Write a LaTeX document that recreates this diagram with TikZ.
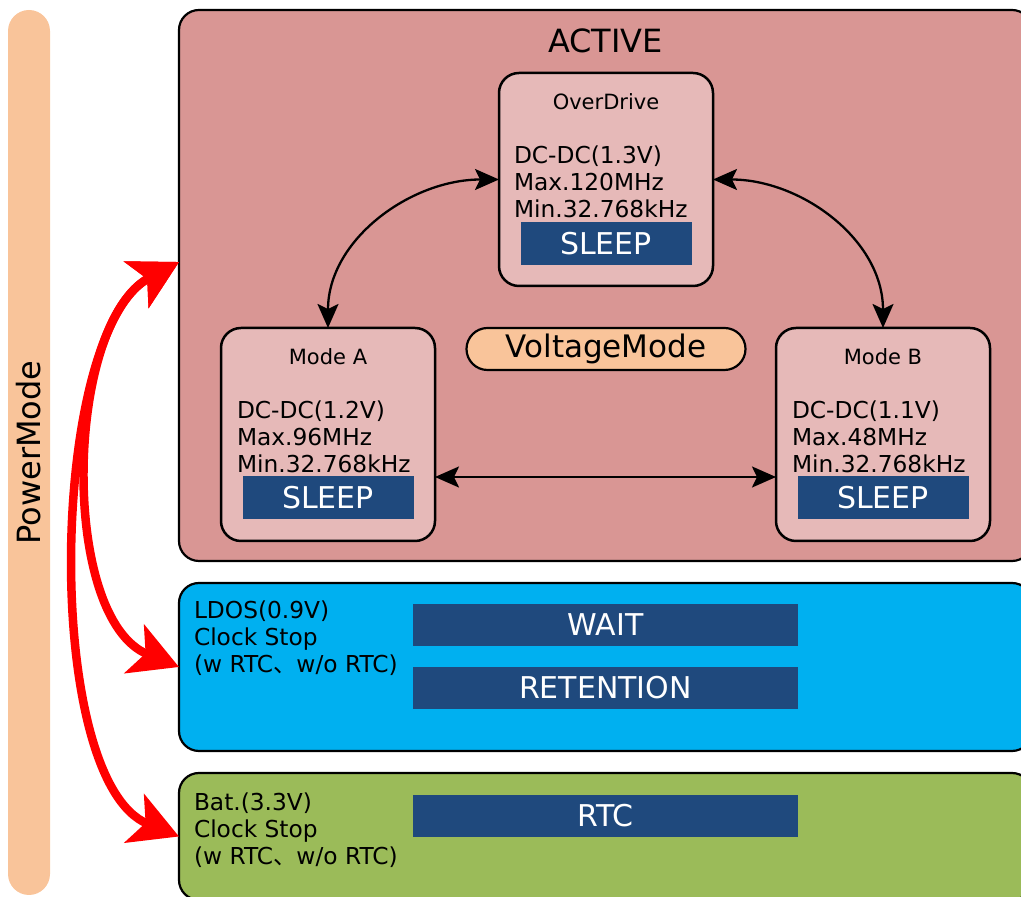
\documentclass[tikz,border=0pt]{standalone}
\usepackage{fontspec}
\setmainfont{DejaVu Sans}
\newfontfamily\cjkfont{Noto Sans CJK JP}
\usepackage{tikz}
\usetikzlibrary{positioning,arrows.meta}
\definecolor{ActivePink}{HTML}{D99694}
\definecolor{ModePink}{HTML}{E6B9B8}
\definecolor{LdoBlue}{HTML}{00B0F0}
\definecolor{BatGreen}{HTML}{9BBB59}
\definecolor{SleepBlue}{HTML}{1F497D}
\definecolor{Peach}{HTML}{F9C49A}

\begin{document}
\begin{tikzpicture}[
      x=1pt, y=1pt,
      every node/.style={inner sep=0pt, outer sep=0pt},
      band/.style={draw, line width=2.2pt, rounded corners=20pt, minimum width=853pt},
      modebox/.style={draw, fill=ModePink, line width=2.5pt, rounded corners=20pt, minimum width=214pt, minimum height=213pt},
      bartext/.style={fill=SleepBlue, text=white, font=\fontsize{30}{36}\selectfont},
      sleepbar/.style={bartext, minimum width=171pt, minimum height=43pt},
      statebar/.style={bartext, minimum width=385pt, minimum height=42pt},
      modetitle/.style={font=\fontsize{21}{25}\selectfont},
      modetext/.style={align=left, font=\fontsize{23.3}{27}\selectfont},
      biarrow/.style={<->, >={Stealth[length=24pt, width=21pt, inset=5pt]}, line width=2.3pt},
      redarrow/.style={<->, >={Stealth[length=48pt, width=52pt, inset=12pt]}, red, line width=8.5pt}
    ]
      \useasboundingbox (0,0) rectangle (1021,897);
      \clip (0,0) rectangle (1021,897);
      % Power mode strip
      \node[fill=Peach, rounded corners=21pt, rotate=90, minimum width=885pt, minimum height=42pt, font=\fontsize{32}{38}\selectfont] (power) at (29,444.5) {PowerMode};
      % Bands
      \node[band, fill=ActivePink, minimum height=551pt] (active) at (605.5,611.5) {};
      \node[band, fill=LdoBlue, minimum height=168pt, below=22pt of active] (ldo) {};
      \node[band, fill=BatGreen, minimum height=127pt, below=22pt of ldo] (bat) {};
      \node[below=19pt of active.north, font=\fontsize{32}{38}\selectfont] (activeT) {ACTIVE};
      % Voltage modes
      \node[modebox] (over) at (606,717.5) {};
      \node[modebox, below left=42pt and 64pt of over] (modeA) {};
      \node[modebox, right=341pt of modeA] (modeB) {};
      \node[modetitle, below=21pt of over.north] (overT) {OverDrive};
      \node[modetext, below right=73pt and 15pt of over.north west] (overX) {DC-DC(1.3V)\\Max.120MHz\\Min.32.768kHz};
      \node[sleepbar, above=21pt of over.south] (overS) {SLEEP};
      \node[modetitle, below=21pt of modeA.north] (modeAT) {Mode A};
      \node[modetext, below right=73pt and 16pt of modeA.north west] (modeAX) {DC-DC(1.2V)\\Max.96MHz\\Min.32.768kHz};
      \node[sleepbar, above=22pt of modeA.south] (modeAS) {SLEEP};
      \node[modetitle, below=21pt of modeB.north] (modeBT) {Mode B};
      \node[modetext, below right=73pt and 16pt of modeB.north west] (modeBX) {DC-DC(1.1V)\\Max.48MHz\\Min.32.768kHz};
      \node[sleepbar, above=22pt of modeB.south] (modeBS) {SLEEP};
      \node[draw, fill=Peach, line width=2.2pt, rounded corners=21pt, minimum width=279pt, minimum height=42pt, font=\fontsize{31}{37}\selectfont, below=42pt of over] (volt) {VoltageMode};
      % Mode transitions
      \draw[biarrow] (over.west) to[out=180, in=90] (modeA.north);
      \draw[biarrow] (over.east) to[out=0, in=90] (modeB.north);
      \draw[biarrow] ([yshift=-42.5pt]modeA.east) -- ([yshift=-42.5pt]modeB.west);
      % Low power bands
      \node[modetext, below right=18pt and 15pt of ldo.north west] (ldoX) {LDOS(0.9V)\\Clock Stop\\(w RTC{\cjkfont 、}w/o RTC)};
      \node[statebar, below=21pt of ldo.north] (wait) {WAIT};
      \node[statebar, below=21pt of wait] (ret) {RETENTION};
      \node[modetext, below right=20pt and 15pt of bat.north west] (batX) {Bat.(3.3V)\\Clock Stop\\(w RTC{\cjkfont 、}w/o RTC)};
      \node[statebar, below=22pt of bat.north] (rtc) {RTC};
      % Power mode transitions
      \draw[redarrow] ([yshift=23.5pt]active.west) to[out=208, in=158, looseness=0.82] (ldo.west);
      \draw[redarrow] ([yshift=23.5pt]active.west) to[out=208, in=158, looseness=0.66] (bat.west);
    \end{tikzpicture}
\end{document}
